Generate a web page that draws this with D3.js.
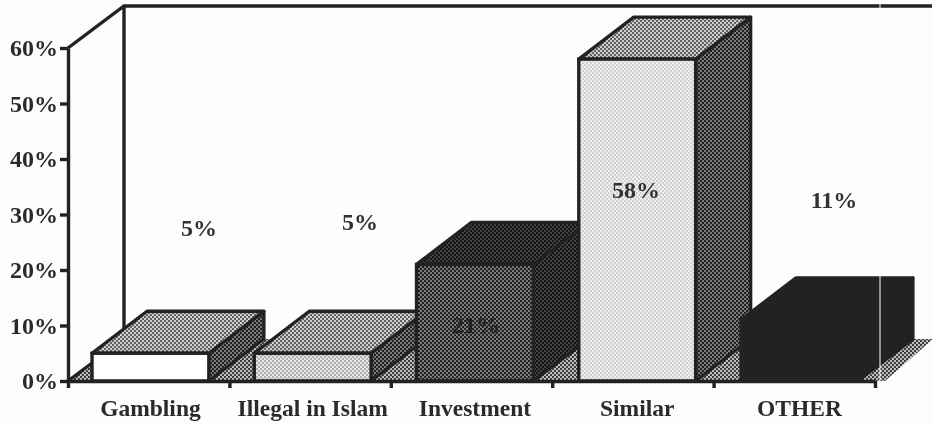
<!DOCTYPE html>
<html>
<head>
<meta charset="utf-8">
<script src="https://cdn.jsdelivr.net/npm/d3@7"></script>
<style>
html, body { margin: 0; padding: 0; background: #fdfdfd; }
text { font-family: "Liberation Serif", serif; fill: #2b2b2b; }
</style>
</head>
<body>
<script>
// values
var categories = ["Gambling", "Illegal in Islam", "Investment", "Similar", "OTHER"];
var values = [5, 5, 21, 58, 11];
var valueLabels = ["5%", "5%", "21%", "58%", "11%"];
var yTicks = [0, 10, 20, 30, 40, 50, 60];

var width = 932, height = 425;
var depthX = 55, depthY = -42;

// shades per bar, names of the dither patterns below
var frontShade = ["plain", "light", "dark", "pale", "black"];
var topShade = ["mid", "mid", "darker", "mid", "black"];
var sideShade = ["dark", "dark", "darker", "dark", "black"];
// where the value labels sit, in the original they float free of the bars
var labelPos = [[199, 228], [360, 222], [476, 325], [636, 190], [834, 200]];

var svg = d3.select("body").append("svg")
	.attr("width", width)
	.attr("height", height);

var defs = svg.append("defs");

// scan softening
defs.append("filter").attr("id", "soft")
	.attr("filterUnits", "userSpaceOnUse")
	.attr("x", 0).attr("y", 0).attr("width", width).attr("height", height)
	.append("feGaussianBlur").attr("stdDeviation", 0.6);

function dither(id, bg, ink, r) {
	var p = defs.append("pattern")
		.attr("id", id)
		.attr("patternUnits", "userSpaceOnUse")
		.attr("width", 4).attr("height", 4);
	p.append("rect").attr("width", 4).attr("height", 4).attr("fill", bg);
	p.append("circle").attr("cx", 1).attr("cy", 1).attr("r", r).attr("fill", ink);
	p.append("circle").attr("cx", 3).attr("cy", 3).attr("r", r).attr("fill", ink);
}
dither("light", "#e6e6e6", "#777", 0.85);
dither("pale", "#efefef", "#9a9a9a", 0.65);
dither("mid", "#cfcfcf", "#3a3a3a", 1.0);
dither("dark", "#808080", "#1c1c1c", 1.15);
dither("darker", "#484848", "#141414", 1.3);
dither("floor", "#bdbdbd", "#2a2a2a", 1.05);

function fillOf(name) {
	if (name === "plain") return "#fff";
	if (name === "black") return "#232323";
	return "url(#" + name + ")";
}

var y = d3.scaleLinear().domain([0, 60]).range([381, 48]);
var x = d3.scaleBand().domain(categories).range([69.3, 880.6]).paddingInner(0.28).paddingOuter(0.14);
var xTicks = d3.scaleLinear().domain([0, 5]).range([68, 875]);

var root = svg.append("g").attr("filter", "url(#soft)");
var g = root.append("g");
var line = d3.line();
var inkWidth = 3.4;

// floor
var x0 = xTicks(0), x1 = xTicks(5), y0 = y(0), yTop = y(60);
g.append("path")
	.attr("d", line([[x0, y0], [x0 + depthX + 1, y0 + depthY], [width + 1, y0 + depthY], [x1 + 10, y0]]) + "Z")
	.attr("fill", "url(#floor)");

// back wall
g.append("path")
	.attr("d", line([[x0, yTop], [x0 + depthX + 1, yTop + depthY], [width, yTop + depthY]]))
	.attr("fill", "none").attr("stroke", "#222").attr("stroke-width", inkWidth);
g.append("path")
	.attr("d", line([[x0 + depthX + 1, yTop + depthY], [x0 + depthX + 1, y0 + depthY]]))
	.attr("fill", "none").attr("stroke", "#222").attr("stroke-width", inkWidth);
g.append("path")
	.attr("d", line([[x0, y0], [x(categories[0]), y0 - 18]]))
	.attr("fill", "none").attr("stroke", "#222").attr("stroke-width", inkWidth);

// bars, left to right so each one covers the side of the one before
var bars = g.selectAll("g.bar")
	.data(categories)
	.enter().append("g")
	.attr("class", "bar");

function barParts(sel) {
	sel.each(function (d, i) {
		var b = d3.select(this);
		var l = x(d), r = l + x.bandwidth();
		var t = y(values[i]), base = y(0);
		b.append("path")
			.attr("d", line([[r, base], [r + depthX, base + depthY], [r + depthX, t + depthY], [r, t]]) + "Z")
			.attr("fill", fillOf(sideShade[i]))
			.attr("stroke", "#222").attr("stroke-width", inkWidth).attr("stroke-linejoin", "round");
		b.append("path")
			.attr("d", line([[l, t], [l + depthX, t + depthY], [r + depthX, t + depthY], [r, t]]) + "Z")
			.attr("fill", fillOf(topShade[i]))
			.attr("stroke", "#222").attr("stroke-width", inkWidth).attr("stroke-linejoin", "round");
		b.append("rect")
			.attr("x", l).attr("y", t)
			.attr("width", r - l).attr("height", base - t)
			.attr("fill", fillOf(frontShade[i]))
			.attr("stroke", "#222").attr("stroke-width", inkWidth);
	});
}
bars.call(barParts);

// axes
var yAxis = d3.axisLeft(y).tickValues(yTicks).tickSize(8).tickSizeOuter(0).tickFormat(function (d) { return d + "%"; });
var yG = root.append("g").attr("transform", "translate(" + x0 + ",0)").call(yAxis);
yG.select(".domain").attr("stroke", "#222").attr("stroke-width", inkWidth);
yG.selectAll(".tick line").attr("stroke", "#222").attr("stroke-width", inkWidth);
yG.selectAll("text")
	.attr("x", -10)
	.style("font-family", '"Liberation Serif", serif')
	.style("font-size", "24px")
	.style("font-weight", "bold")
	.style("fill", "#2b2b2b");

var tickAxis = d3.axisBottom(xTicks).ticks(5).tickSize(7).tickSizeOuter(0).tickFormat("");
var tG = root.append("g").attr("transform", "translate(0," + y0 + ")").call(tickAxis);
tG.select(".domain").attr("stroke", "#222").attr("stroke-width", inkWidth);
tG.selectAll(".tick line").attr("stroke", "#222").attr("stroke-width", inkWidth);

var xAxis = d3.axisBottom(x).tickSize(0);
var xG = root.append("g").attr("transform", "translate(0," + y0 + ")").call(xAxis);
xG.select(".domain").remove();
xG.selectAll("text")
	.attr("y", 18)
	.style("font-family", '"Liberation Serif", serif')
	.style("font-size", "23.5px")
	.style("font-weight", "bold")
	.style("fill", "#2b2b2b");

// value labels
root.append("g")
	.selectAll("text")
	.data(valueLabels)
	.enter().append("text")
	.attr("x", function (d, i) { return labelPos[i][0]; })
	.attr("y", function (d, i) { return labelPos[i][1]; })
	.attr("dy", "0.35em")
	.attr("text-anchor", "middle")
	.style("font-size", "24px")
	.style("font-weight", "bold")
	.style("fill", function (d, i) { return i === 2 ? "#222" : "#333"; })
	.text(function (d) { return d; });

// white scratch on the scan
svg.append("line")
	.attr("x1", 880).attr("x2", 880).attr("y1", 0).attr("y2", y0)
	.attr("stroke", "#fff").attr("stroke-width", 1);
</script>
</body>
</html>
